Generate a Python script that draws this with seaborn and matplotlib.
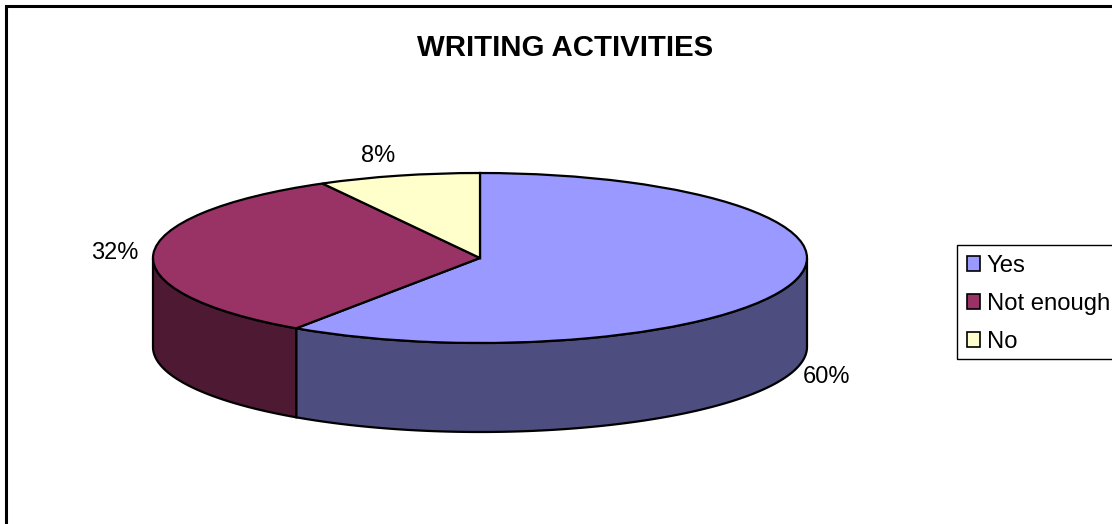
import numpy as np
import matplotlib
matplotlib.use("Agg")
import matplotlib.pyplot as plt
from matplotlib.patches import Rectangle
import seaborn as sns

categories = ["Yes", "Not enough", "No"]
shares = [59.5, 32.5, 8]
share_labels = ["60%", "32%", "8%"]
top_colors = ["#9999FF", "#993366", "#FFFFCC"]
side_colors = ["#4D4D80", "#4D1933", "#80804D"]

W, H = 1112, 524
cx, cy, rx, ry, depth = 480, 258, 327, 85, 89

sns.set_theme(style="white")
plt.rcParams["font.family"] = ["Liberation Sans", "DejaVu Sans"]

fig = plt.figure(figsize=(W / 100, H / 100), dpi=100, facecolor="white")
ax = fig.add_axes([0, 0, 1, 1])

# pie uses a unit circle, the axes limits squash it to an ellipse
palette = sns.color_palette(top_colors)
wedges, _ = ax.pie(shares, colors=palette, startangle=90, counterclock=False, frame=True,
                   wedgeprops={"edgecolor": "black", "linewidth": 1.6, "zorder": 3})
ax.set_aspect("auto")
ax.set_xlim(-cx / rx, (W - cx) / rx)
ax.set_ylim((cy - H) / ry, cy / ry)
ax.set_xticks([])
ax.set_yticks([])
ax.set_frame_on(False)

# side wall, only the front half of the rim (90 to 270 deg clockwise from top)
edges = np.cumsum([0] + shares) / sum(shares) * 360
d = depth / ry
for i in range(len(shares)):
    a0, a1 = max(edges[i], 90), min(edges[i + 1], 270)
    if a1 <= a0:
        continue
    t = np.radians(np.linspace(a0, a1, 120))
    xs = np.sin(t)
    ys = np.cos(t)
    ax.fill(np.r_[xs, xs[::-1]], np.r_[ys, ys[::-1] - d], facecolor=side_colors[i],
            edgecolor="black", linewidth=1.6, zorder=2)

# percent labels
label_px = [(827, 377), (115, 253), (378, 156)]
for lab, (px, py) in zip(share_labels, label_px):
    ax.text((px - cx) / rx, (cy - py) / ry, lab, ha="center", va="center",
            fontsize=17, color="black")

ax.text((565.5 - cx) / rx, (cy - 47.5) / ry, "WRITING ACTIVITIES", ha="center", va="center",
        fontsize=21.2, fontweight="bold", color="black")

leg = ax.legend(wedges, categories, loc="upper left",
                bbox_to_anchor=(957.5 / W, 1 - 246 / H), bbox_transform=fig.transFigure,
                fontsize=17.2, frameon=False, labelcolor="black",
                handlelength=0.55, handleheight=0.55, handletextpad=0.3, labelspacing=0.665,
                borderpad=0.38, borderaxespad=0)
for h in leg.legend_handles:
    h.set_edgecolor("black")
    h.set_linewidth(1.2)

# legend box runs off the right edge like in the original
fig.add_artist(Rectangle((957 / W, 1 - 359 / H), 200 / W, 114 / H, transform=fig.transFigure,
                         fill=False, edgecolor="black", linewidth=1.0))

# chart border, only top and left fall inside the picture
fig.add_artist(Rectangle((6 / W, -0.1), 1.2, 1.1 - 6 / H, transform=fig.transFigure,
                         fill=False, edgecolor="black", linewidth=2.2))

fig.savefig("out.png", dpi=100, facecolor="white")
